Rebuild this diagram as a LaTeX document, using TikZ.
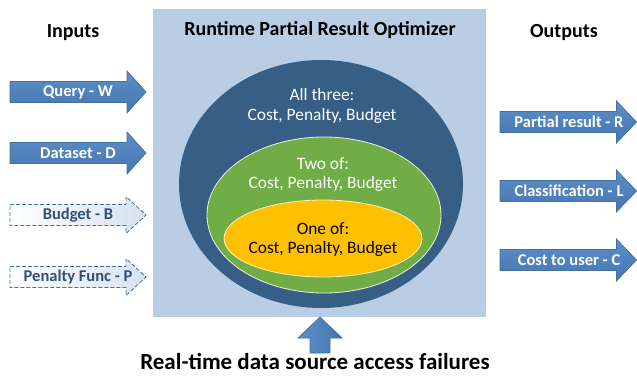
\documentclass[tikz,border=0pt]{standalone}
\usepackage{fontspec}
\setmainfont{Carlito}
\definecolor{abody}{RGB}{79,129,189}
\definecolor{atop}{RGB}{92,142,201}
\definecolor{abot}{RGB}{70,118,176}
\definecolor{aline}{RGB}{65,113,156}
\definecolor{boxfill}{RGB}{185,205,229}
\definecolor{darkell}{RGB}{55,94,132}
\definecolor{greenell}{RGB}{112,173,71}
\definecolor{orangeell}{RGB}{255,192,0}
\definecolor{dashtext}{RGB}{50,80,115}
\definecolor{dashfill}{RGB}{214,226,241}
\newcommand\arrowshape[7]{% style, xleft, xtip, y, half body, half head, head length
  \path[#1] (#2,#4-#5) -- (#3-#7,#4-#5) -- (#3-#7,#4-#6) -- (#3,#4)
    -- (#3-#7,#4+#6) -- (#3-#7,#4+#5) -- (#2,#4+#5) -- cycle;}
\tikzset{
  solidarrow/.style={draw=aline, line width=0.7pt, top color=atop, bottom color=abot},
  dasharrow/.style={draw=aline, line width=0.8pt, dash pattern=on 4pt off 2pt, left color=white, right color=dashfill},
  alabel/.style={font=\fontsize{16.5}{18}\selectfont\bfseries, text=white, inner sep=0pt},
  dlabel/.style={font=\fontsize{16.5}{18}\selectfont\bfseries, text=dashtext, inner sep=0pt},
  heading/.style={font=\fontsize{20}{22}\selectfont\bfseries, text=black, inner sep=0pt},
  elltext/.style={font=\fontsize{17.4}{19.5}\selectfont, align=center, inner sep=0pt},
}
\begin{document}
\begin{tikzpicture}[x=1pt,y=-1pt]
\useasboundingbox (0,0) rectangle (637,375);
% main box
\path[fill=boxfill] (153,9) rectangle (486,317);
\node[heading] (title) at (320,30) {Runtime Partial Result Optimizer};
% ellipses
\path[fill=darkell] (321,184) ellipse [x radius=142, y radius=124];
\node[elltext, text=white] (all) at (322,106) {All three:\\Cost, Penalty, Budget};
\path[fill=greenell, draw=white!85!greenell, line width=0.8pt] (324,215) ellipse [x radius=117, y radius=78];
\node[elltext, text=white] (two) at (323,174.5) {Two of:\\Cost, Penalty, Budget};
\path[fill=orangeell, draw=white!75!orangeell, line width=0.8pt] (323,238.5) ellipse [x radius=99, y radius=38.5];
\node[elltext, text=black] (one) at (323,239.5) {One of:\\Cost, Penalty, Budget};
% headings
\node[heading] (inputs) at (73,33) {Inputs};
\node[heading] (outputs) at (564,33) {Outputs};
% input arrows
\arrowshape{solidarrow}{10}{146}{92}{10.5}{21}{19}
\node[alabel] (q) at (78,92) {Query - W};
\arrowshape{solidarrow}{10}{146}{153}{10.5}{21}{19}
\node[alabel] (d) at (78,153) {Dataset - D};
\arrowshape{dasharrow}{10}{146}{215}{10.5}{18.5}{20}
\node[dlabel] (b) at (78,215) {Budget - B};
\arrowshape{dasharrow}{10}{146}{277}{10.5}{18.5}{20}
\node[dlabel] (p) at (78,277) {Penalty Func - P};
% output arrows
\arrowshape{solidarrow}{500}{636.5}{122}{10.5}{21}{20}
\node[alabel] (r) at (569,122) {Partial result - R};
\arrowshape{solidarrow}{500}{636.5}{191}{10.5}{21}{20}
\node[alabel] (l) at (569,191) {Classification - L};
\arrowshape{solidarrow}{500}{636.5}{260}{10.5}{21}{20}
\node[alabel] (c) at (569,260) {Cost to user - C};
% bottom arrow
\path[solidarrow, left color=atop, right color=abot] (310,353) -- (310,338) -- (298,338) -- (320,317) -- (342,338) -- (330,338) -- (330,353) -- cycle;
\node[font=\fontsize{23}{26}\selectfont\bfseries, inner sep=0pt, anchor=base] (fail) at (315,369) {Real-time data source access failures};
\end{tikzpicture}
\end{document}
